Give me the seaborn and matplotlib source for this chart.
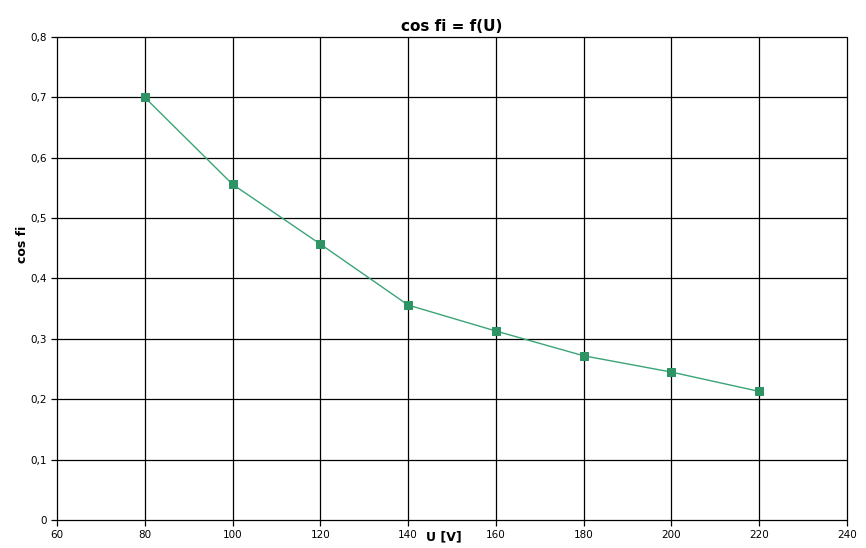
#libs
import numpy as np
import pandas as pd
import matplotlib
matplotlib.use("Agg")
import matplotlib.pyplot as plt
import seaborn as sns
from matplotlib.ticker import FuncFormatter, MultipleLocator

#values
U = [80, 100, 120, 140, 160, 180, 200, 220]
cos_fi = [0.700, 0.556, 0.457, 0.356, 0.313, 0.272, 0.245, 0.213]

data = pd.DataFrame({"U": U, "cos_fi": cos_fi})

sns.set_style("white")
plt.rcParams['font.family'] = ['DejaVu Sans']
plt.rcParams['text.color'] = 'black'
plt.rcParams['axes.labelcolor'] = 'black'
plt.rcParams['xtick.color'] = 'black'
plt.rcParams['ytick.color'] = 'black'

fig = plt.figure(figsize=(8.66, 5.48), dpi=100)
ax = fig.add_axes([0.0658, 0.0511, 0.9122, 0.8814])

sns.lineplot(data=data, x="U", y="cos_fi", ax=ax, color="#3aa476", lw=1,
             marker="s", markersize=6, markerfacecolor="#2e9465",
             markeredgecolor="#2e9465", zorder=3)

ax.set_xlim(60, 240)
ax.set_ylim(0, 0.8)
ax.xaxis.set_major_locator(MultipleLocator(20))
ax.yaxis.set_major_locator(MultipleLocator(0.1))
ax.yaxis.set_major_formatter(FuncFormatter(lambda v, p: "0" if abs(v) < 1e-9 else f"{v:.1f}".replace(".", ",")))
ax.grid(True, color="black", lw=0.9, clip_on=False)
for s in ax.spines.values():
    s.set_visible(False)
ax.tick_params(axis="both", labelsize=7.5, length=4, width=0.9, color="black", pad=3, left=True, bottom=True)

ax.set_title("cos fi = f(U)", fontsize=11, fontweight="bold", pad=4)
ax.set_xlabel("U [V]", fontsize=9, fontweight="bold")
ax.xaxis.set_label_coords(0.49, -0.022)
ax.set_ylabel("cos fi", fontsize=9, fontweight="bold")
ax.yaxis.set_label_coords(-0.036, 0.57)

plt.savefig("out.png", dpi=100)
